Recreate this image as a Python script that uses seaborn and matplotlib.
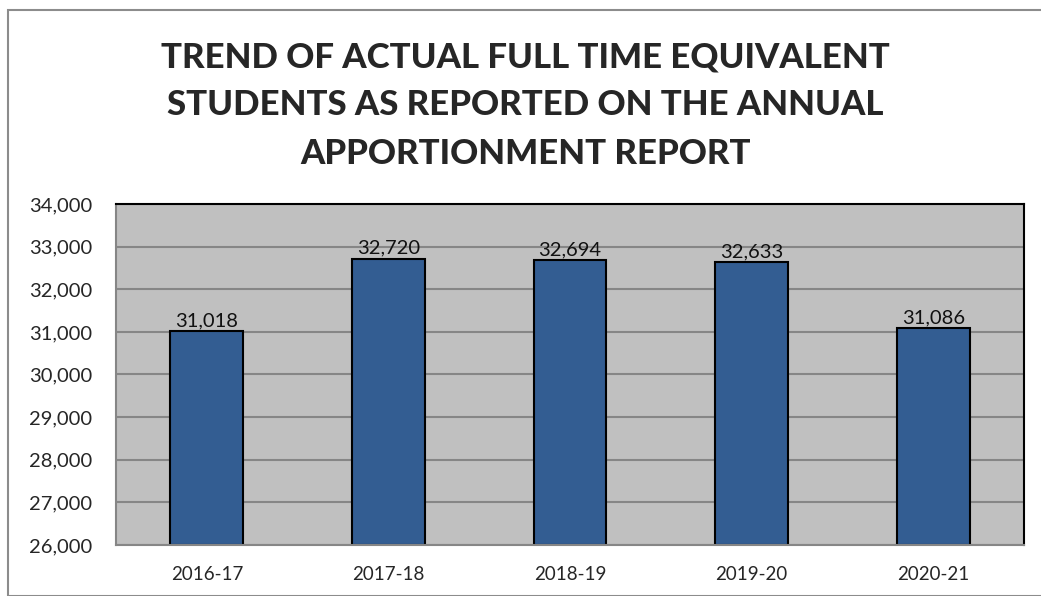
import matplotlib
matplotlib.use("Agg")
import matplotlib.pyplot as plt
import matplotlib.patches as mpatches
from matplotlib.ticker import FuncFormatter, MultipleLocator
import pandas as pd
import seaborn as sns

# Chart data
years = ["2016-17", "2017-18", "2018-19", "2019-20", "2020-21"]
fte_students = [31018, 32720, 32694, 32633, 31086]
title = "TREND OF ACTUAL FULL TIME EQUIVALENT\nSTUDENTS AS REPORTED ON THE ANNUAL\nAPPORTIONMENT REPORT"

df = pd.DataFrame({"Year": years, "FTE": fte_students})

sns.set_style("white")
plt.rcParams["font.family"] = ["Lato", "DejaVu Sans"]

fig = plt.figure(figsize=(10.41, 5.96), dpi=100)
ax = fig.add_axes([116 / 1041, 1 - 545 / 596, (1024 - 116) / 1041, (545 - 204) / 596])

ax.set_facecolor("#c0c0c0")
ax.set_ylim(26000, 34000)
ax.yaxis.set_major_locator(MultipleLocator(1000))
ax.yaxis.grid(True, color="#868686", linewidth=1.5)
ax.set_axisbelow(True)

sns.barplot(data=df, x="Year", y="FTE", color="#335d92", width=0.4,
            edgecolor="black", linewidth=1.5, saturation=1, ax=ax)

# bars start at the axis bottom, not at zero
for bar in ax.patches:
    h = bar.get_height()
    bar.set_y(26000)
    bar.set_height(h - 26000)

for i, v in enumerate(fte_students):
    ax.text(i, v + 40, f"{v:,}", ha="center", va="bottom", fontsize=14.5, color="#111111")

ax.yaxis.set_major_formatter(FuncFormatter(lambda v, p: f"{int(v):,}"))
ax.tick_params(axis="y", labelsize=14.5, length=0, pad=17)
ax.tick_params(axis="x", labelsize=13.5, length=0, pad=15)
ax.set_xlabel("")
ax.set_ylabel("")

for side in ["top", "right"]:
    ax.spines[side].set_color("black")
    ax.spines[side].set_linewidth(1.5)
for side in ["left", "bottom"]:
    ax.spines[side].set_color("#868686")
    ax.spines[side].set_linewidth(1.5)

fig.text(0.505, 0.823, title, ha="center", va="center", fontsize=25,
         fontweight="black", linespacing=1.63)

# outer chart border
fig.patches.append(mpatches.Rectangle((8 / 1041, 0), 1.1, 1 - 10 / 596,
                                      transform=fig.transFigure, fill=False,
                                      edgecolor="#8c8c8c", linewidth=1.5))

fig.savefig("out.png", dpi=100)
